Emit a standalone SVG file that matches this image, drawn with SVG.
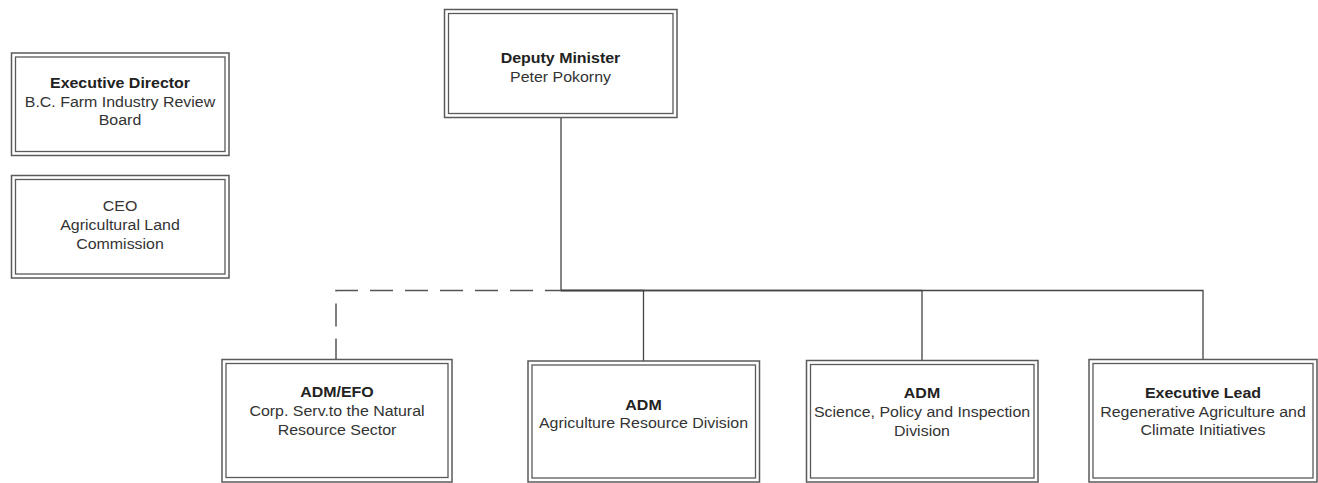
<svg xmlns="http://www.w3.org/2000/svg" width="1318" height="483" viewBox="0 0 1318 483">
<style>
.o{fill:#fff;stroke:#5a5a5a;stroke-width:1.5}
.i{fill:none;stroke:#5a5a5a;stroke-width:1.3}
text{font-family:"Liberation Sans",Arial,sans-serif;font-size:14.5px;text-anchor:middle;fill:#333}
.b{font-weight:bold;fill:#222}
.c{fill:none;stroke:#444;stroke-width:1.3}
.d{fill:none;stroke:#555;stroke-width:1.5;stroke-dasharray:23 12}
</style>
<g id="connectors">
<path class="c" d="M561,117.5 V290.5 H643.5 V361"/>
<path class="c" d="M561,290.5 H922 V360.5"/>
<path class="c" d="M561,290.5 H1203 V359.5"/>
<path class="d" stroke-dashoffset="2" d="M336,359.5 V290.5 H561"/>
</g>
<g id="exec-director">
<rect class="o" x="11.5" y="53" width="217.5" height="102.5"/>
<rect class="i" x="15.5" y="57" width="209.5" height="94.5"/>
<g transform="translate(120 0) scale(1.1 1)">
<text class="b" x="0" y="88.5">Executive Director</text>
<text x="0" y="107">B.C. Farm Industry Review</text>
<text x="0" y="125.5">Board</text>
</g>
</g>
<g id="ceo">
<rect class="o" x="11.5" y="175.5" width="217.5" height="102.5"/>
<rect class="i" x="15.5" y="179.5" width="209.5" height="94.5"/>
<g transform="translate(120 0) scale(1.1 1)">
<text x="0" y="211.5">CEO</text>
<text x="0" y="230.5">Agricultural Land</text>
<text x="0" y="249.5">Commission</text>
</g>
</g>
<g id="deputy-minister">
<rect class="o" x="444.5" y="9.5" width="232.5" height="108"/>
<rect class="i" x="448.5" y="13.5" width="224.5" height="100"/>
<g transform="translate(560.5 0) scale(1.1 1)">
<text class="b" x="0" y="63.5">Deputy Minister</text>
<text x="0" y="82">Peter Pokorny</text>
</g>
</g>
<g id="adm-efo">
<rect class="o" x="222" y="359.5" width="230" height="122.5"/>
<rect class="i" x="226" y="363.5" width="222" height="114"/>
<g transform="translate(337 0) scale(1.1 1)">
<text class="b" x="0" y="397.5">ADM/EFO</text>
<text x="0" y="416.5">Corp. Serv.to the Natural</text>
<text x="0" y="435">Resource Sector</text>
</g>
</g>
<g id="adm-agriculture">
<rect class="o" x="528" y="361" width="231.5" height="121"/>
<rect class="i" x="532" y="365" width="223.5" height="113"/>
<g transform="translate(643.5 0) scale(1.1 1)">
<text class="b" x="0" y="410">ADM</text>
<text x="0" y="428.5">Agriculture Resource Division</text>
</g>
</g>
<g id="adm-science">
<rect class="o" x="806.5" y="360.5" width="231.5" height="121.5"/>
<rect class="i" x="810.5" y="364.5" width="223.5" height="113.5"/>
<g transform="translate(922 0) scale(1.1 1)">
<text class="b" x="0" y="398">ADM</text>
<text x="0" y="417">Science, Policy and Inspection</text>
<text x="0" y="436">Division</text>
</g>
</g>
<g id="exec-lead">
<rect class="o" x="1089" y="359.5" width="228" height="122.5"/>
<rect class="i" x="1093" y="363.5" width="220" height="114.5"/>
<g transform="translate(1203 0) scale(1.1 1)">
<text class="b" x="0" y="398">Executive Lead</text>
<text x="0" y="417">Regenerative Agriculture and</text>
<text x="0" y="435.5">Climate Initiatives</text>
</g>
</g>
</svg>
